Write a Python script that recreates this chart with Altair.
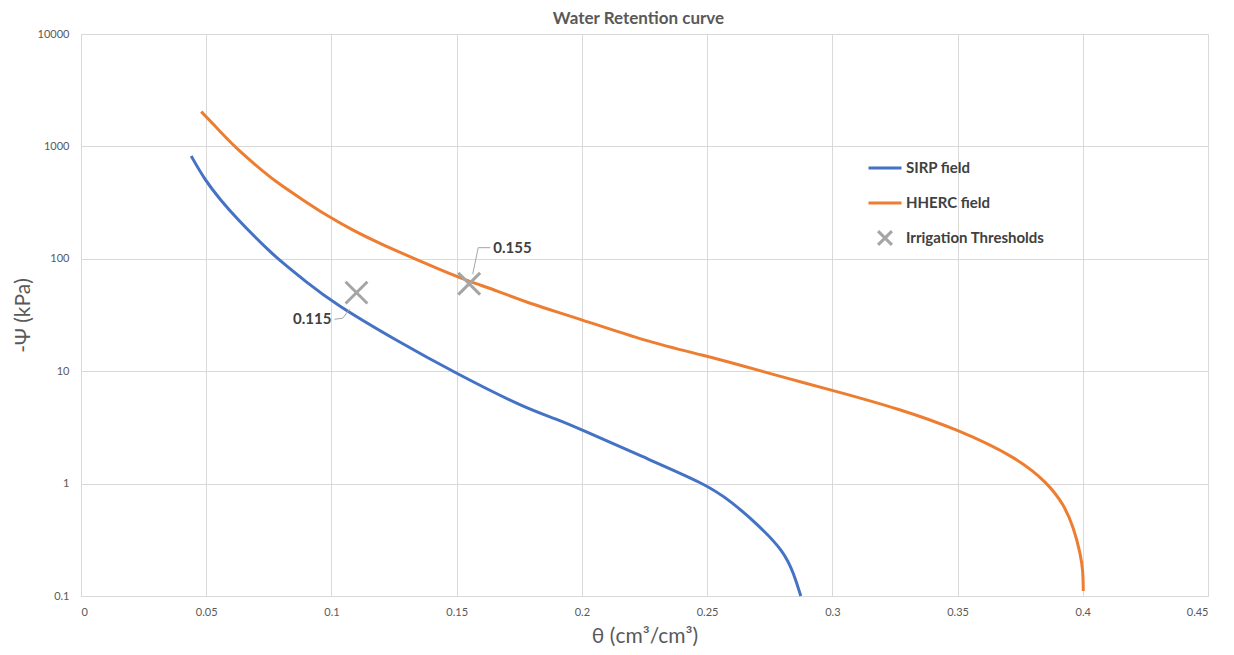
import altair as alt
import pandas as pd

# SIRP field curve
sirp_theta = [0.044, 0.0493, 0.056, 0.0626, 0.070, 0.0746, 0.0786, 0.090, 0.1012,
              0.1251, 0.1504, 0.177, 0.1903, 0.1996, 0.2235, 0.2495, 0.2594, 0.2701, 0.2807,
              0.2847, 0.2874]
sirp_psi = [822, 509, 327, 224, 152, 121, 100, 62, 40,
            19.2, 9.4, 4.73, 3.73, 3.04, 1.76, 0.99, 0.70, 0.435, 0.25,
            0.156, 0.1]

# HHERC field curve
hherc_theta = [0.048, 0.056, 0.0613, 0.0693, 0.0773, 0.0892, 0.0985, 0.109, 0.1185, 0.145, 0.155,
               0.1664, 0.178, 0.1996, 0.2249, 0.2501, 0.2621, 0.2834, 0.300, 0.3273, 0.3499,
               0.3738, 0.3858, 0.3924, 0.3964, 0.3991, 0.4001, 0.4002]
hherc_psi = [2040, 1325, 1000, 693, 492, 327, 240, 177, 139, 77, 63,
             51.7, 40.7, 29.0, 18.6, 13.6, 11.5, 8.47, 6.76, 4.58, 3.04,
             1.70, 1.02, 0.655, 0.405, 0.235, 0.167, 0.111]

# Irrigation thresholds
thr_theta = [0.11, 0.155]
thr_psi = [50, 60]
thr_label = ["0.115", "0.155"]
# label anchor (end of leader line) in data space
lab_theta = [0.1012, 0.1634]
lab_psi = [29.0, 125.6]
lab_align = ["right", "left"]
# leader lines
lead_group = ["a", "a", "a", "b", "b", "b"]
lead_theta = [0.1012, 0.1045, 0.1072, 0.1634, 0.1586, 0.1564]
lead_psi = [29.0, 29.6, 35.5, 125.6, 125.6, 73.0]

series_names = ["SIRP field", "HHERC field", "Irrigation Thresholds"]
series_colors = ["#4472C4", "#ED7D31", "#A5A5A5"]
x_path = "M-0.42,-0.42L0.42,0.42M0.42,-0.42L-0.42,0.42"

FONT = "Lato"

curves = pd.concat([
    pd.DataFrame({"theta": sirp_theta, "psi": sirp_psi, "series": "SIRP field", "order": range(len(sirp_theta))}),
    pd.DataFrame({"theta": hherc_theta, "psi": hherc_psi, "series": "HHERC field", "order": range(len(hherc_theta))}),
])
thr = pd.DataFrame({"theta": thr_theta, "psi": thr_psi, "series": "Irrigation Thresholds"})
labs = pd.DataFrame({"theta": lab_theta, "psi": lab_psi, "label": thr_label, "align": lab_align})
leads = pd.DataFrame({"theta": lead_theta, "psi": lead_psi, "g": lead_group, "order": [0, 1, 2, 0, 1, 2]})

xscale = alt.Scale(domain=[0, 0.45], nice=False, zero=False)
yscale = alt.Scale(type="log", domain=[0.1, 10000], nice=False)

xaxis = alt.Axis(values=[i * 0.05 for i in range(10)], format="~g", title="θ (cm³/cm³)",
                 grid=True, ticks=False, labelPadding=10, titlePadding=8)
yaxis = alt.Axis(values=[0.1, 1, 10, 100, 1000, 10000], format="~g", title="-Ψ (kPa)",
                 grid=True, ticks=False, labelPadding=12, titlePadding=4)

legend_def = alt.Legend(title=None, orient="none", legendX=786, legendY=116,
                        symbolSize=1089, symbolStrokeWidth=3, labelOffset=3,
                        rowPadding=9, labelFontSize=15, labelFontWeight="bold",
                        labelColor="#404040", labelFont=FONT)
color = alt.Color("series:N", scale=alt.Scale(domain=series_names, range=series_colors), legend=legend_def)
shape = alt.Shape("series:N", scale=alt.Scale(domain=series_names, range=["stroke", "stroke", x_path]),
                  legend=legend_def)

lines = alt.Chart(curves).mark_line(strokeWidth=3, interpolate="basis").encode(
    x=alt.X("theta:Q", scale=xscale, axis=xaxis),
    y=alt.Y("psi:Q", scale=yscale, axis=yaxis),
    color=color,
    detail="series:N",
    order="order:Q",
)

points = alt.Chart(thr).mark_point(filled=False, strokeWidth=3, size=2700, opacity=1).encode(
    x=alt.X("theta:Q", scale=xscale),
    y=alt.Y("psi:Q", scale=yscale),
    color=color,
    shape=shape,
)

leaders = alt.Chart(leads).mark_line(strokeWidth=1, color="#A5A5A5").encode(
    x=alt.X("theta:Q", scale=xscale),
    y=alt.Y("psi:Q", scale=yscale),
    detail="g:N",
    order="order:Q",
)

text_r = alt.Chart(labs).transform_filter("datum.align == 'right'").mark_text(
    align="right", baseline="middle", dx=-3, font=FONT, fontSize=15, fontWeight="bold", color="#404040"
).encode(x=alt.X("theta:Q", scale=xscale), y=alt.Y("psi:Q", scale=yscale), text="label:N")

text_l = alt.Chart(labs).transform_filter("datum.align == 'left'").mark_text(
    align="left", baseline="middle", dx=3, font=FONT, fontSize=15, fontWeight="bold", color="#404040"
).encode(x=alt.X("theta:Q", scale=xscale), y=alt.Y("psi:Q", scale=yscale), text="label:N")

chart = alt.layer(lines, leaders, points, text_r, text_l).properties(
    width=1127, height=562,
    title=alt.Title("Water Retention curve", font=FONT, fontSize=17, fontWeight="bold",
                    color="#595959", anchor="middle", offset=0, dx=-6),
    padding={"left": 4, "top": 2, "right": 5, "bottom": 2},
).configure_view(stroke=None).configure_axis(
    labelFont=FONT, labelFontSize=11, labelColor="#595959",
    titleFont=FONT, titleFontSize=21, titleColor="#595959", titleFontWeight="normal",
    gridColor="#D9D9D9", gridWidth=1, domainColor="#D9D9D9", domainWidth=1,
)

chart.save("out.html", embed_options={"renderer": "svg", "actions": False})
